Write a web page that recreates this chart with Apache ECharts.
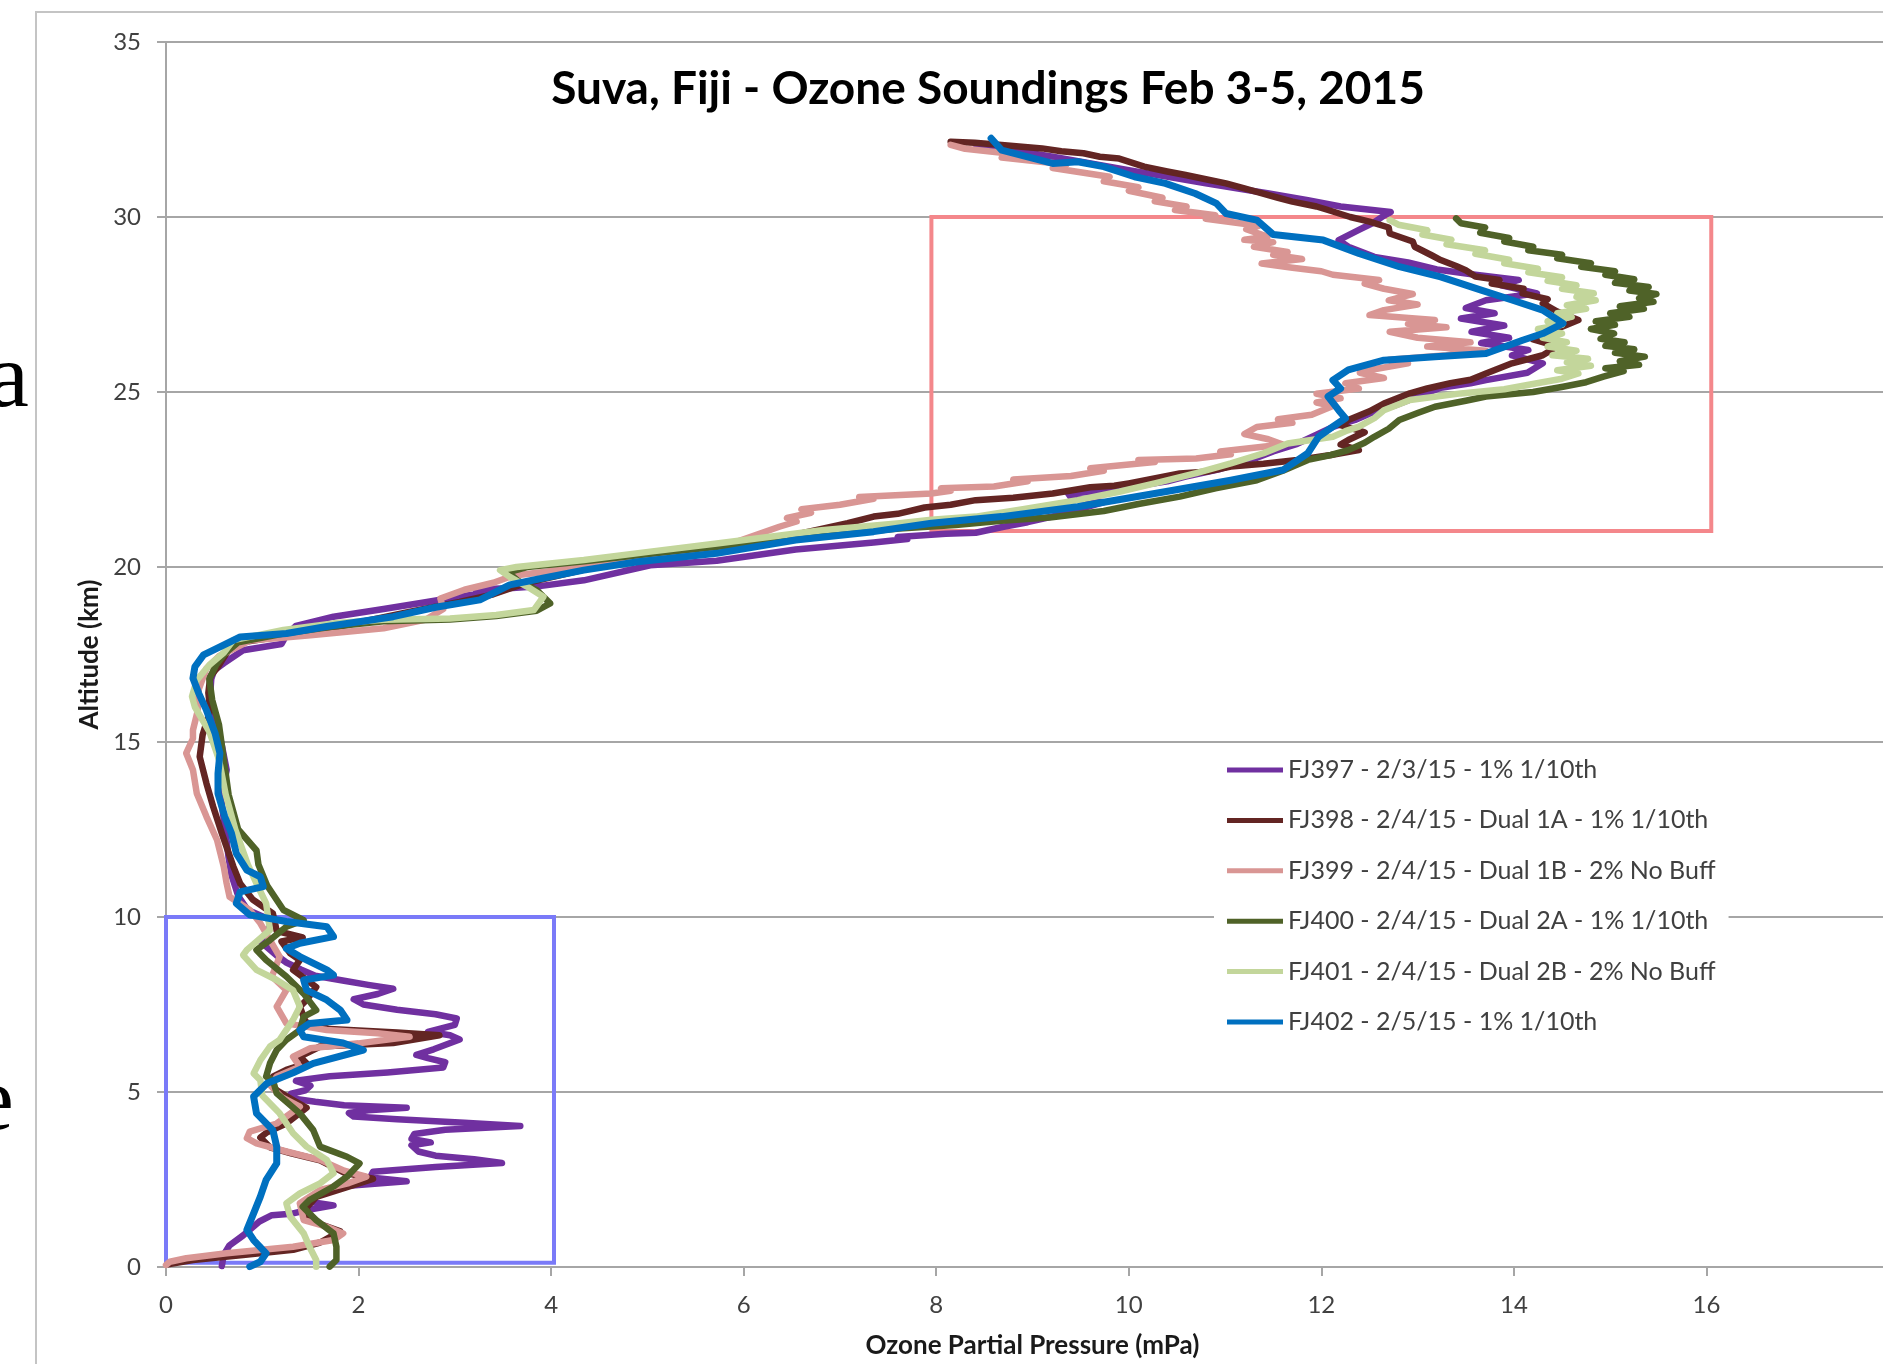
<!DOCTYPE html>
<html>
<head>
<meta charset="utf-8">
<title>Suva, Fiji - Ozone Soundings</title>
<script src="https://cdn.jsdelivr.net/npm/echarts@6/dist/echarts.min.js"></script>
<style>
  html, body { margin: 0; padding: 0; background: #fff; }
  #chart { width: 1883px; height: 1364px; }
</style>
</head>
<body>
<div id="chart"></div>
<script>
// soundings: [ozone partial pressure (mPa), altitude (km)]
var fj397 = [[0.58,0.03],[0.60,0.35],[0.66,0.62],[0.80,0.90],[0.97,1.30],[1.10,1.48],[1.30,1.52],[1.45,1.62],[1.74,1.76],[1.50,1.86],[1.55,2.02],[1.68,2.18],[1.90,2.32],[2.50,2.45],[2.12,2.56],[2.15,2.72],[2.80,2.86],[3.49,2.97],[3.20,3.08],[2.80,3.18],[2.62,3.30],[2.55,3.48],[2.75,3.56],[2.55,3.66],[2.58,3.80],[2.90,3.92],[3.68,4.03],[3.10,4.12],[2.40,4.22],[1.95,4.30],[1.90,4.40],[2.10,4.48],[2.50,4.55],[1.85,4.62],[1.55,4.72],[1.35,4.80],[1.30,4.95],[1.45,5.05],[1.50,5.18],[1.35,5.32],[1.70,5.45],[2.30,5.56],[2.88,5.70],[2.90,5.85],[2.72,5.97],[2.60,6.06],[2.78,6.22],[3.05,6.50],[2.95,6.62],[2.72,6.72],[3.00,6.92],[3.02,7.10],[2.80,7.22],[2.40,7.35],[2.05,7.50],[1.95,7.65],[2.20,7.80],[2.36,7.95],[2.10,8.06],[1.85,8.18],[1.55,8.32],[1.40,8.50],[1.25,8.70],[1.15,8.90],[0.98,9.30],[1.05,9.60],[1.10,9.90],[0.85,10.20],[0.75,10.60],[0.68,11.20],[0.65,11.70],[0.62,12.40],[0.58,13.20],[0.60,13.80],[0.63,14.20],[0.58,14.90],[0.54,15.40],[0.49,15.90],[0.46,16.40],[0.47,16.80],[0.50,17.05],[0.60,17.25],[0.80,17.62],[1.20,17.80],[1.25,18.05],[1.35,18.32],[1.74,18.58],[2.26,18.80],[2.71,19.00],[3.10,19.18],[3.40,19.28],[3.22,19.36],[3.60,19.40],[3.90,19.46],[4.34,19.62],[5.03,20.05],[5.72,20.18],[6.54,20.50],[7.35,20.70],[7.70,20.80],[7.60,20.86],[8.10,20.95],[8.41,20.98],[8.70,21.15],[8.95,21.28],[9.30,21.50],[9.74,21.85],[9.40,21.98],[9.37,22.10],[9.80,22.18],[10.00,22.28],[10.40,22.45],[10.59,22.58],[10.95,22.80],[11.33,23.12],[11.50,23.30],[11.75,23.52],[11.95,23.78],[12.12,24.00],[12.35,24.20],[12.50,24.38],[12.75,24.60],[12.92,24.78],[13.24,25.12],[13.55,25.25],[13.71,25.34],[14.14,25.55],[14.30,25.82],[13.98,26.05],[14.15,26.20],[13.66,26.40],[13.95,26.55],[13.56,26.72],[13.90,26.90],[13.45,27.10],[13.80,27.25],[13.50,27.40],[13.71,27.62],[14.24,27.82],[13.87,28.05],[14.05,28.20],[13.60,28.35],[13.20,28.50],[12.90,28.70],[12.55,28.86],[12.28,29.15],[12.18,29.34],[12.39,29.63],[12.55,29.85],[12.65,30.04],[12.72,30.14],[12.20,30.30],[11.86,30.48],[11.44,30.68],[10.80,30.96],[10.00,31.34],[9.21,31.72],[8.41,32.08]];

var fj398 = [[0.02,0.08],[0.28,0.20],[0.80,0.34],[1.32,0.49],[1.60,0.70],[1.81,1.02],[1.65,1.18],[1.49,1.34],[1.46,1.70],[1.56,2.00],[1.88,2.28],[2.15,2.52],[1.85,2.70],[1.60,3.05],[1.30,3.25],[1.08,3.42],[0.98,3.70],[1.05,3.85],[1.25,4.10],[1.46,4.55],[1.30,4.80],[1.15,5.05],[1.08,5.25],[1.11,5.44],[1.25,5.63],[1.46,5.82],[1.39,6.01],[1.60,6.30],[2.36,6.40],[2.84,6.62],[2.40,6.70],[1.70,6.80],[1.45,7.00],[1.39,7.44],[1.46,7.63],[1.56,8.00],[1.32,8.49],[1.39,8.77],[1.29,8.96],[1.20,9.30],[1.42,9.42],[1.15,9.60],[1.11,10.10],[0.90,10.50],[0.77,10.96],[0.70,11.44],[0.58,12.39],[0.49,13.15],[0.42,13.82],[0.35,14.58],[0.38,15.20],[0.46,15.91],[0.44,16.40],[0.46,16.87],[0.54,17.15],[0.62,17.50],[0.72,17.82],[1.20,18.02],[1.80,18.30],[2.50,18.70],[3.05,19.00],[3.40,19.22],[3.75,19.55],[4.30,19.90],[4.80,20.28],[5.72,20.48],[6.50,20.90],[7.08,21.25],[7.35,21.44],[7.60,21.52],[7.88,21.70],[8.15,21.78],[8.41,21.91],[8.80,21.98],[9.21,22.10],[9.60,22.28],[9.85,22.32],[10.00,22.39],[10.53,22.67],[10.80,22.72],[11.06,22.87],[11.40,22.95],[11.75,23.06],[12.10,23.20],[12.39,23.34],[12.20,23.50],[12.28,23.63],[12.45,23.85],[12.20,24.05],[12.28,24.20],[12.50,24.45],[12.65,24.67],[12.92,24.96],[13.10,25.10],[13.34,25.25],[13.55,25.35],[13.71,25.53],[13.98,25.82],[14.30,26.05],[14.45,26.30],[14.20,26.50],[14.40,26.75],[14.67,27.06],[14.45,27.30],[14.30,27.53],[14.35,27.65],[14.09,27.82],[14.10,27.95],[13.77,28.10],[13.85,28.20],[13.60,28.30],[13.50,28.48],[13.40,28.60],[13.24,28.77],[13.15,28.90],[12.97,29.15],[12.95,29.30],[12.71,29.53],[12.70,29.70],[12.50,29.87],[12.30,30.00],[12.07,30.20],[11.95,30.30],[11.70,30.44],[11.55,30.55],[11.33,30.72],[11.20,30.82],[11.01,30.96],[10.85,31.05],[10.59,31.20],[10.40,31.30],[10.16,31.44],[9.90,31.67],[9.70,31.72],[9.53,31.82],[9.30,31.88],[9.10,31.96],[8.68,32.06],[8.40,32.12],[8.15,32.15]];

var fj399 = [[0.00,0.06],[0.04,0.15],[0.21,0.25],[0.63,0.39],[1.32,0.58],[1.74,0.77],[1.84,0.96],[1.67,1.15],[1.43,1.34],[1.39,1.82],[1.60,2.20],[1.90,2.40],[2.08,2.58],[1.85,2.75],[1.60,3.06],[1.25,3.30],[0.94,3.53],[0.84,3.68],[0.87,3.87],[1.15,4.10],[1.39,4.58],[1.20,4.85],[1.08,5.20],[1.15,5.44],[1.39,5.72],[1.32,6.01],[1.50,6.25],[2.00,6.39],[2.53,6.58],[2.20,6.68],[1.67,6.77],[1.25,6.96],[1.15,7.44],[1.25,7.91],[1.10,8.30],[1.18,8.87],[1.08,9.34],[0.98,9.82],[0.87,10.20],[0.66,10.58],[0.63,10.96],[0.60,11.44],[0.53,12.20],[0.42,12.87],[0.32,13.53],[0.28,14.20],[0.21,14.68],[0.28,15.10],[0.28,15.34],[0.33,15.90],[0.34,16.50],[0.42,17.10],[0.55,17.45],[0.87,17.90],[1.50,18.05],[2.26,18.25],[2.70,18.50],[2.88,18.80],[2.85,19.10],[3.10,19.35],[3.40,19.55],[3.60,19.75],[4.20,19.95],[5.00,20.25],[5.80,20.60],[6.37,21.15],[6.55,21.30],[6.45,21.40],[6.70,21.55],[6.60,21.65],[7.00,21.78],[7.35,21.95],[7.20,22.00],[7.95,22.10],[8.15,22.18],[8.05,22.25],[8.60,22.30],[8.95,22.45],[8.80,22.50],[9.40,22.60],[9.74,22.75],[9.60,22.82],[10.27,23.00],[10.10,23.06],[10.70,23.10],[11.06,23.22],[10.95,23.30],[11.60,23.50],[11.45,23.65],[11.20,23.80],[11.33,24.00],[11.70,24.12],[11.55,24.22],[11.90,24.35],[12.12,24.60],[11.95,24.70],[12.20,24.82],[11.95,24.95],[12.39,25.10],[12.25,25.25],[12.65,25.40],[12.40,25.55],[12.55,25.65],[12.90,25.82],[12.70,25.92],[13.30,26.05],[13.71,26.18],[13.10,26.30],[13.55,26.42],[13.00,26.55],[12.71,26.72],[13.30,26.85],[12.90,26.95],[13.18,27.06],[12.50,27.20],[12.65,27.34],[13.00,27.50],[12.70,27.62],[12.95,27.80],[12.65,27.95],[12.45,28.10],[12.60,28.20],[12.12,28.35],[12.00,28.45],[11.70,28.55],[11.38,28.67],[11.80,28.80],[11.50,28.92],[11.65,29.00],[11.30,29.15],[11.50,29.28],[11.20,29.35],[11.44,29.44],[11.22,29.65],[11.35,29.75],[10.80,29.95],[10.90,30.05],[10.48,30.20],[10.60,30.30],[10.27,30.45],[10.35,30.55],[10.00,30.75],[10.10,30.85],[9.74,31.02],[9.80,31.15],[9.21,31.40],[9.35,31.50],[8.68,31.70],[8.80,31.80],[8.30,31.95],[8.15,32.06]];

var fj400 = [[1.70,0.01],[1.77,0.20],[1.77,0.58],[1.74,0.96],[1.56,1.34],[1.42,1.72],[1.49,1.91],[1.74,2.30],[1.88,2.58],[2.01,2.96],[1.88,3.15],[1.60,3.44],[1.53,3.91],[1.39,4.39],[1.15,4.96],[1.11,5.34],[1.04,5.44],[1.08,5.82],[1.15,6.20],[1.25,6.49],[1.39,6.77],[1.43,7.15],[1.56,7.34],[1.43,7.81],[1.25,8.30],[1.04,8.77],[0.94,9.06],[1.08,9.34],[1.25,9.72],[1.43,9.91],[1.22,10.20],[1.05,10.90],[0.96,11.50],[0.94,11.90],[0.75,12.50],[0.65,13.50],[0.60,14.50],[0.55,15.50],[0.48,16.20],[0.45,16.80],[0.52,17.20],[0.62,17.55],[0.75,17.85],[1.22,18.10],[1.74,18.30],[2.26,18.45],[2.95,18.50],[3.43,18.60],[3.85,18.75],[3.99,18.96],[3.85,19.34],[3.65,19.62],[3.55,19.85],[3.75,20.00],[4.40,20.18],[5.10,20.40],[5.80,20.60],[6.60,20.85],[7.62,21.10],[8.20,21.20],[8.68,21.32],[9.20,21.42],[9.74,21.60],[10.10,21.80],[10.53,22.01],[10.90,22.25],[11.33,22.48],[11.60,22.75],[11.86,23.06],[12.10,23.20],[12.28,23.34],[12.45,23.55],[12.55,23.72],[12.70,23.95],[12.81,24.20],[13.00,24.40],[13.18,24.58],[13.50,24.75],[13.71,24.87],[14.20,25.00],[14.51,25.15],[14.75,25.28],[14.93,25.44],[15.14,25.60],[14.95,25.68],[15.30,25.78],[15.10,25.88],[15.36,26.01],[15.05,26.12],[15.25,26.22],[14.95,26.32],[15.15,26.42],[14.90,26.52],[15.04,26.67],[14.80,26.80],[15.05,26.92],[14.85,27.02],[15.20,27.15],[15.00,27.25],[15.35,27.38],[15.10,27.45],[15.45,27.58],[15.30,27.68],[15.48,27.80],[15.20,27.90],[15.40,28.00],[15.05,28.12],[15.25,28.22],[14.95,28.35],[15.05,28.45],[14.70,28.58],[14.80,28.68],[14.45,28.82],[14.50,28.92],[14.15,29.05],[14.20,29.15],[13.90,29.30],[13.95,29.40],[13.65,29.55],[13.70,29.70],[13.45,29.82],[13.40,29.96]];

var fj401 = [[1.56,0.01],[1.56,0.20],[1.49,0.58],[1.43,0.96],[1.29,1.44],[1.25,1.82],[1.39,2.10],[1.60,2.39],[1.74,2.68],[1.67,3.06],[1.46,3.44],[1.32,3.82],[1.18,4.39],[1.00,4.90],[0.98,5.34],[0.91,5.53],[0.98,5.91],[1.08,6.30],[1.18,6.49],[1.32,7.06],[1.39,7.44],[1.32,7.91],[1.15,8.20],[0.94,8.49],[0.80,8.91],[0.84,9.06],[1.08,9.63],[1.04,10.39],[0.95,10.90],[0.85,11.50],[0.72,12.50],[0.62,13.50],[0.55,14.50],[0.45,15.30],[0.30,16.00],[0.27,16.30],[0.32,16.77],[0.45,17.20],[0.60,17.55],[0.70,17.91],[1.22,18.20],[1.74,18.39],[2.26,18.49],[2.95,18.53],[3.43,18.63],[3.82,18.77],[3.92,19.15],[3.75,19.44],[3.57,19.72],[3.47,19.91],[3.64,20.00],[4.34,20.20],[5.03,20.44],[5.72,20.67],[6.81,21.05],[7.62,21.25],[7.95,21.35],[8.41,21.44],[8.90,21.65],[9.47,21.91],[9.90,22.15],[10.27,22.39],[10.70,22.68],[11.06,22.96],[11.40,23.25],[11.65,23.53],[12.12,23.72],[12.25,23.88],[12.39,24.01],[12.55,24.25],[12.65,24.48],[12.92,24.77],[13.45,24.96],[13.90,25.08],[14.24,25.25],[14.50,25.38],[14.67,25.53],[14.45,25.62],[14.80,25.75],[14.55,25.85],[14.77,25.95],[14.40,26.05],[14.65,26.18],[14.35,26.30],[14.55,26.42],[14.30,26.55],[14.50,26.67],[14.25,26.80],[14.50,26.92],[14.35,27.02],[14.60,27.15],[14.45,27.25],[14.75,27.38],[14.55,27.48],[14.85,27.62],[14.65,27.72],[14.83,27.82],[14.50,27.95],[14.65,28.05],[14.35,28.18],[14.50,28.28],[14.15,28.42],[14.25,28.52],[13.90,28.68],[13.95,28.78],[13.60,28.95],[13.70,29.05],[13.30,29.22],[13.35,29.35],[13.05,29.50],[13.10,29.62],[12.80,29.78],[12.71,29.91]];

var fj402 = [[0.87,0.01],[0.98,0.15],[1.04,0.39],[0.91,0.77],[0.84,1.06],[0.91,1.53],[0.98,2.01],[1.04,2.49],[1.15,2.96],[1.15,3.44],[1.11,3.91],[0.94,4.39],[0.91,4.87],[1.05,5.25],[1.32,5.55],[1.53,5.82],[2.05,6.20],[1.84,6.40],[1.43,6.58],[1.39,6.77],[1.49,6.96],[1.88,7.06],[1.81,7.34],[1.67,7.63],[1.46,7.91],[1.43,8.20],[1.74,8.34],[1.67,8.49],[1.39,8.87],[1.25,9.10],[1.39,9.25],[1.74,9.44],[1.67,9.72],[1.25,9.87],[0.87,10.06],[0.73,10.39],[0.77,10.72],[1.01,10.87],[0.98,11.15],[0.84,11.34],[0.73,11.82],[0.68,12.39],[0.61,12.87],[0.54,13.53],[0.54,14.10],[0.56,14.68],[0.51,15.25],[0.42,15.91],[0.34,16.39],[0.28,16.82],[0.30,17.15],[0.39,17.49],[0.56,17.72],[0.77,18.00],[1.25,18.10],[1.67,18.30],[2.36,18.58],[2.80,18.85],[3.26,19.06],[3.57,19.49],[3.82,19.63],[4.34,19.91],[4.90,20.15],[5.72,20.39],[6.54,20.77],[7.35,21.01],[7.95,21.25],[8.68,21.44],[9.47,21.72],[10.27,22.10],[11.06,22.48],[11.60,22.77],[11.86,23.25],[11.97,23.72],[12.12,24.01],[12.25,24.25],[12.18,24.48],[12.07,24.87],[12.20,25.10],[12.12,25.34],[12.28,25.63],[12.65,25.91],[13.18,26.01],[13.71,26.10],[14.09,26.48],[14.30,26.67],[14.51,26.96],[14.30,27.34],[13.98,27.63],[13.66,27.91],[13.24,28.29],[12.81,28.58],[12.39,28.96],[12.02,29.34],[11.50,29.50],[11.33,29.91],[11.01,30.10],[10.91,30.39],[10.69,30.67],[10.38,30.96],[10.06,31.15],[9.74,31.44],[9.47,31.58],[9.21,31.53],[8.95,31.72],[8.68,31.91],[8.57,32.25]];

var seriesNames = [
    'FJ397 - 2/3/15 - 1% 1/10th',
    'FJ398 - 2/4/15 - Dual 1A - 1% 1/10th',
    'FJ399 - 2/4/15 - Dual 1B - 2% No Buff',
    'FJ400 - 2/4/15 - Dual 2A - 1% 1/10th',
    'FJ401 - 2/4/15 - Dual 2B - 2% No Buff',
    'FJ402 - 2/5/15 - 1% 1/10th'
];
var seriesColors = ['#7030a0', '#632523', '#d99694', '#4f6228', '#c3d69b', '#0070c0'];
var profiles = [fj397, fj398, fj399, fj400, fj401, fj402];

// highlighted boxes: [x, altitude] corners
var upperBox = [[7.95, 30], [16.05, 21.03]];
var lowerBox = [[0, 10], [4.03, 0.12]];

var xTicks = { min: 0, max: 18, step: 2 };
var yTicks = { min: 0, max: 35, step: 5 };

var chart = echarts.init(document.getElementById('chart'), null, { renderer: 'canvas' });

var labelFont = 'Lato, "Open Sans", sans-serif';
var gridGray = '#a6a6a6';

var series = profiles.map(function (d, i) {
    return {
        name: seriesNames[i],
        type: 'line',
        data: d,
        symbol: 'none',
        showSymbol: false,
        z: 2 + i,
        lineStyle: { color: seriesColors[i], width: i === 5 ? 7 : 6.5, join: 'round', cap: 'round' },
        itemStyle: { color: seriesColors[i] },
        emphasis: { disabled: true }
    };
});

// the two outlined boxes sit on top of the curves
series.push({
    name: 'boxes',
    type: 'line',
    data: [],
    z: 20,
    markArea: {
        silent: true,
        itemStyle: { color: 'rgba(0,0,0,0)', borderWidth: 4 },
        data: [
            [{ coord: upperBox[0], itemStyle: { borderColor: '#f4878b', color: 'rgba(0,0,0,0)', borderWidth: 4 } }, { coord: upperBox[1] }],
            [{ coord: lowerBox[0], itemStyle: { borderColor: '#7a7af8', color: 'rgba(0,0,0,0)', borderWidth: 4 } }, { coord: lowerBox[1] }]
        ]
    }
});

chart.setOption({
    backgroundColor: '#ffffff',
    animation: false,
    grid: {
        left: 166,
        top: 42,
        right: -16,
        bottom: 97,
        containLabel: false,
        outerBoundsMode: 'none'
    },
    legend: {
        data: seriesNames,
        orient: 'vertical',
        left: 1214,
        top: 745,
        padding: [10, 13, 10, 13],
        backgroundColor: '#ffffff',
        icon: 'rect',
        itemWidth: 56,
        itemHeight: 5,
        itemGap: 20.4,
        selectedMode: false,
        textStyle: { fontFamily: labelFont, fontSize: 25, color: '#404040', lineHeight: 30 }
    },
    xAxis: {
        type: 'value',
        min: xTicks.min,
        max: xTicks.max,
        interval: xTicks.step,
        name: 'Ozone Partial Pressure (mPa)',
        nameLocation: 'middle',
        nameGap: 66,
        nameTextStyle: { fontFamily: labelFont, fontWeight: 'bold', fontSize: 26, color: '#1a1a1a' },
        axisLine: { show: true, onZero: false, lineStyle: { color: gridGray, width: 2 } },
        axisTick: { show: true, inside: false, length: 9, lineStyle: { color: gridGray, width: 2 } },
        axisLabel: { fontFamily: labelFont, fontSize: 24, color: '#404040', margin: 26 },
        splitLine: { show: false }
    },
    yAxis: {
        type: 'value',
        min: yTicks.min,
        max: yTicks.max,
        interval: yTicks.step,
        name: 'Altitude (km)',
        nameLocation: 'middle',
        nameGap: 62,
        nameRotate: 90,
        nameTextStyle: { fontFamily: labelFont, fontWeight: 'bold', fontSize: 26, color: '#1a1a1a' },
        axisLine: { show: true, onZero: false, lineStyle: { color: gridGray, width: 2 } },
        axisTick: { show: true, inside: false, length: 9, lineStyle: { color: gridGray, width: 2 } },
        axisLabel: { fontFamily: labelFont, fontSize: 24, color: '#404040', margin: 25 },
        splitLine: { show: true, lineStyle: { color: gridGray, width: 2 } }
    },
    graphic: [
        // chart frame, cut off at the right and bottom
        {
            type: 'rect', silent: true, z: -10,
            shape: { x: 36, y: 12, width: 1900, height: 1400 },
            style: { fill: 'none', stroke: '#c4c4c4', lineWidth: 2 }
        },
        // title
        {
            type: 'text', silent: true, x: 988, y: 89,
            style: {
                text: 'Suva, Fiji - Ozone Soundings Feb 3-5, 2015',
                font: 'bold 46px Lato, "Open Sans", sans-serif',
                fill: '#000000', align: 'center', verticalAlign: 'middle'
            }
        },
        // slide text clipped at the left edge
        {
            type: 'text', silent: true, x: -12, y: 382,
            style: { text: 'a', font: '92px "Liberation Serif", serif', fill: '#000000', align: 'left', verticalAlign: 'middle' }
        },
        {
            type: 'text', silent: true, x: -27, y: 1105,
            style: { text: 'e', font: '92px "Liberation Serif", serif', fill: '#000000', align: 'left', verticalAlign: 'middle' }
        }
    ],
    series: series
});
</script>
</body>
</html>
